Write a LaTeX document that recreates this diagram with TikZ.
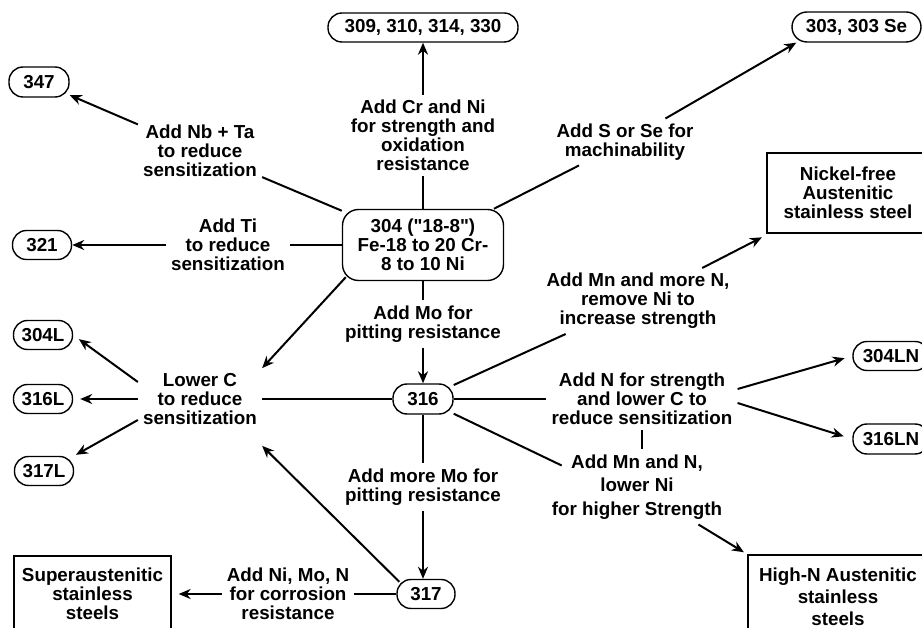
\documentclass[tikz,border=0pt]{standalone}
\usepackage{fontspec}
\setmainfont{Liberation Sans}[Ligatures=TeXOff]
\usetikzlibrary{arrows.meta}

\begin{document}
\begin{tikzpicture}[
  x=1pt,y=-1pt,
  font=\bfseries\fontsize{18.8}{19}\selectfont,
  grade/.style={draw,line width=1.4pt,rounded corners=14pt,minimum height=29pt,inner sep=0pt},
  family/.style={draw,line width=1.3pt,align=center,inner sep=0pt},
  note/.style={align=center,inner sep=5pt},
  link/.style={line width=2pt},
  edge/.style={link,-{Stealth[length=12pt,width=10pt]}}
]
\useasboundingbox (0,0) rectangle (922,628);

\node[grade,minimum width=161pt,minimum height=71pt,rounded corners=16pt,align=center] (s304) at (423,245) {304 ("18-8")\\Fe-18 to 20 Cr-\\8 to 10 Ni};
\node[grade,minimum width=190pt] (s309) at (423,27.5) {309, 310, 314, 330};
\node[grade,minimum width=129pt,minimum height=30pt,rounded corners=15pt] (s303) at (856.5,27) {303, 303 Se};
\node[grade,minimum width=60pt,minimum height=30pt] (s347) at (39,82) {347};
\node[grade,minimum width=59pt] (s321) at (42,245) {321};
\node[grade,minimum width=59pt] (s304L) at (43,335) {304L};
\node[grade,minimum width=59pt] (s316L) at (43,399) {316L};
\node[grade,minimum width=59pt] (s317L) at (44,471) {317L};
\node[grade,minimum width=60pt,minimum height=30pt] (s316) at (423,399) {316};
\node[grade,minimum width=58pt] (s317) at (426,594) {317};
\node[grade,minimum width=76pt] (s304LN) at (891,356) {304LN};
\node[grade,minimum width=76pt,minimum height=30pt] (s316LN) at (891,439) {316LN};

\node[family,minimum width=162pt,minimum height=80pt] (nifree) at (848,193) {Nickel-free\\Austenitic\\stainless steel};
\node[family,minimum width=157pt,minimum height=76pt] (superaus) at (92.5,594) {Superaustenitic\\stainless\\steels};
\node[family,minimum width=180pt,minimum height=84pt,font=\bfseries\fontsize{18.8}{22}\selectfont] (highn) at (838,597) {High-N Austenitic\\stainless\\steels};

\node[note] (crni) at (423,135.5) {Add Cr and Ni\\for strength and\\oxidation\\resistance};
\node[note] (nbta) at (200,151) {Add Nb + Ta\\to reduce\\sensitization};
\node[note] (ti) at (228,245) {Add Ti\\to reduce\\sensitization};
\node[note] (sse) at (625,142) {Add S or Se for\\machinability};
\node[note] (mo) at (423,324) {Add Mo for\\pitting resistance};
\node[note] (lowc) at (200,399) {Lower C\\to reduce\\sensitization};
\node[note] (mnmore) at (638,301) {Add Mn and more N,\\remove Ni to\\increase strength};
\node[note] (nlowc) at (642,399) {Add N for strength\\and lower C to\\reduce sensitization};
\node[note,font=\bfseries\fontsize{18.8}{23.5}\selectfont] (mnn) at (637,487) {Add Mn and N,\\lower Ni\\for higher Strength};
\node[note] (moremo) at (423,487) {Add more Mo for\\pitting resistance};
\node[note] (nimon) at (288,594) {Add Ni, Mo, N\\for corrosion\\resistance};

\draw[link] (s304) -- (crni);
\draw[edge] (crni) -- (s309);
\draw[link] (s304) -- (nbta);
\draw[edge] (nbta) -- (s347);
\draw[link] (s304) -- (ti);
\draw[edge] (ti) -- (s321);
\draw[link] (s304) -- (sse);
\draw[edge] (sse) -- ([xshift=5pt]s303.south west);
\draw[edge] ([shift={(4pt,4pt)}]s304.south west) -- (lowc.north east);
\draw[link] (s304) -- (mo);
\draw[edge] (mo) -- (s316);
\draw[edge,shorten >=7pt] ([yshift=17pt]lowc.west) -- (s304L.east);
\draw[edge,shorten >=7pt] (lowc) -- (s316L);
\draw[edge,shorten >=2pt] ([yshift=-21pt]lowc.west) -- (s317L.north east);
\draw[link] (s316) -- (lowc);
\draw[link] (s316) -- (mnmore);
\draw[edge,shorten >=8pt] (mnmore) -- (nifree);
\draw[link] (s316) -- (nlowc);
\draw[edge,shorten >=8pt] ([yshift=10pt]nlowc.east) -- (s304LN.west);
\draw[edge,shorten >=9pt] ([yshift=-4pt]nlowc.east) -- (s316LN.west);
\draw[link] (nlowc.south) -- (nlowc.south |- mnn.north);
\draw[link] (s316) -- ([shift={(15pt,-16pt)}]mnn.north west);
\draw[edge,shorten >=4pt] (mnn) -- (highn.north west);
\draw[link] (s316) -- (moremo);
\draw[edge] (moremo.south) -- (moremo.south |- s317.north);
\draw[edge] ([shift={(3pt,-3pt)}]s317.north west) -- ([yshift=-16pt]lowc.south east);
\draw[link] (s317) -- (nimon);
\draw[edge,shorten >=7pt] (nimon) -- (superaus);
\end{tikzpicture}
\end{document}
